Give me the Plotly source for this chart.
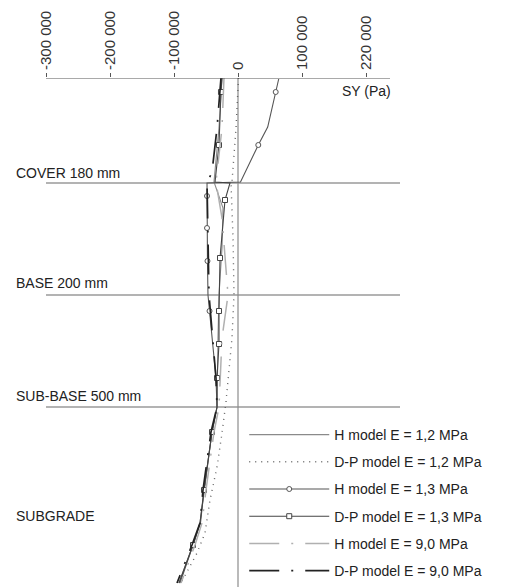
import plotly.graph_objects as go

# ---------------- data (depth in schematic units from surface, SY in Pa) ----------------
tick_vals = [-300000, -200000, -100000, 0, 100000, 200000]
tick_text = ["-300 000", "-200 000", "-100 000", "0", "100 000", "220 000"]

layer_bounds = [105, 217, 329]
layer_names = ["COVER 180 mm", "BASE 200 mm", "SUB-BASE 500 mm", "SUBGRADE"]
layer_label_depth = [95, 205, 318, 438]

depth_h12 = [0, 50, 104, 130, 170, 217, 260, 300, 329, 354, 412, 445, 467, 505]
sy_h12 = [-25000, -29700, -37500, -23400, -25000, -29700, -31250, -32800, -32800,
          -40600, -53100, -59400, -70300, -92200]

depth_dp12 = [0, 50, 104, 105, 160, 217, 260, 324, 355, 389, 422, 455, 475, 505]
sy_dp12 = [800, -3100, -9400, -10900, -7800, -6250, -9400, -18750, -25000, -32800,
           -43750, -51600, -64000, -89000]

depth_h13 = [1, 14, 49, 67, 104, 105, 118, 150, 183, 217, 233, 266, 300, 329, 354,
             412, 445, 467, 505]
sy_h13 = [63600, 58900, 46400, 31700, 3900, -48400, -48400, -48400, -47700, -46900,
          -44500, -39100, -34400, -32800, -40600, -53100, -58600, -70300, -90600]
marks_h13 = [14, 67, 118, 150, 183, 233, 354, 412, 467]

depth_dp13 = [0, 14, 67, 104, 105, 122, 180, 217, 233, 266, 300, 329, 354, 412, 445,
              467, 505]
sy_dp13 = [-25000, -26600, -29700, -35900, -12500, -20300, -28100, -29700, -29700,
           -29700, -32800, -32800, -40600, -53100, -59400, -70300, -92200]
marks_dp13 = [14, 67, 122, 180, 233, 266, 300, 354, 412, 467]

depth_h90 = [0, 50, 104, 140, 217, 260, 329, 354, 412, 445, 467, 505]
sy_h90 = [-21900, -25000, -34400, -25000, -15600, -25000, -29700, -37500, -50000,
          -56250, -67200, -89000]

depth_dp90 = [0, 50, 94, 104, 105, 217, 260, 300, 329, 354, 412, 445, 467, 505]
sy_dp90 = [-26600, -32800, -40600, -46900, -48400, -45300, -39100, -34400, -32800,
           -42200, -54700, -59400, -71900, -95300]

names = ["H model E = 1,2 MPa", "D-P model E = 1,2 MPa", "H model E = 1,3 MPa",
         "D-P model E = 1,3 MPa", "H model E = 9,0 MPa", "D-P model E = 9,0 MPa"]

# ---------------- styles ----------------
FONT = "Liberation Sans, Arial, sans-serif"
styles = [
    dict(color="#8a8a8a", width=1.1, dash="solid"),
    dict(color="#666666", width=1.4, dash="1px,5px"),
    dict(color="#555555", width=1.1, dash="solid"),
    dict(color="#444444", width=1.1, dash="solid"),
    dict(color="#b0b0b0", width=1.5, dash="30px,12px,2px,12px"),
    dict(color="#222222", width=1.7, dash="30px,12px,2px,12px"),
]
symbols = [None, None, "circle", "square", None, None]

series = [
    (depth_h12, sy_h12, None),
    (depth_dp12, sy_dp12, None),
    (depth_h13, sy_h13, marks_h13),
    (depth_dp13, sy_dp13, marks_dp13),
    (depth_h90, sy_h90, None),
    (depth_dp90, sy_dp90, None),
]

fig = go.Figure()

for i, (d, v, marks) in enumerate(series):
    st = styles[i]
    fig.add_trace(go.Scatter(
        x=v, y=d, mode="lines", showlegend=False, hoverinfo="skip",
        line=dict(color=st["color"], width=st["width"], dash=st["dash"]),
    ))
    if marks:
        mx = [v[k] for k in range(len(d)) if d[k] in marks]
        my = [d[k] for k in range(len(d)) if d[k] in marks]
        fig.add_trace(go.Scatter(
            x=mx, y=my, mode="markers", showlegend=False, hoverinfo="skip",
            marker=dict(symbol=symbols[i], size=5, color="white",
                        line=dict(color=st["color"], width=1)),
        ))

# legend entries
for i, nm in enumerate(names):
    st = styles[i]
    mode = "lines+markers" if symbols[i] else "lines"
    fig.add_trace(go.Scatter(
        x=[None], y=[None], mode=mode, name=nm, legendgroup=f"g{i}",
        line=dict(color=st["color"], width=st["width"], dash=st["dash"]),
        marker=dict(symbol=symbols[i] or "circle", size=5, color="white",
                    line=dict(color=st["color"], width=1)),
    ))

# zero line
fig.add_shape(type="line", xref="x", yref="y", x0=0, x1=0, y0=0, y1=509,
              line=dict(color="#8c8c8c", width=1.2), layer="below")
# layer boundaries
for b in layer_bounds:
    fig.add_shape(type="line", xref="x domain", yref="y", x0=0, x1=1, y0=b, y1=b,
                  line=dict(color="#9a9a9a", width=1.5), layer="below")
# top axis line
fig.add_shape(type="line", xref="x", yref="y", x0=-300000, x1=237500, y0=0, y1=0,
              line=dict(color="#555555", width=1.2))

for nm, yd in zip(layer_names, layer_label_depth):
    fig.add_annotation(xref="paper", yref="y", x=-0.09, y=yd, text=nm,
                       showarrow=False, xanchor="left", yanchor="middle",
                       font=dict(family=FONT, size=14, color="#222222"))

fig.add_annotation(xref="x", yref="y", x=159000, y=13, text="SY (Pa)",
                   showarrow=False, xanchor="left", yanchor="middle",
                   font=dict(family=FONT, size=14, color="#222222"))

# page body has an 8px margin, so the figure is sized/offset to compensate
fig.update_layout(
    width=497, height=579,
    margin=dict(l=38, r=105, t=70, b=0),
    paper_bgcolor="white", plot_bgcolor="white",
    font=dict(family=FONT, size=13, color="#222222"),
    xaxis=dict(side="top", range=[-300000, 253125], tickvals=tick_vals,
               ticktext=tick_text, tickangle=-90, ticks="outside", ticklen=4,
               tickcolor="#555555", showgrid=False, zeroline=False, showline=False,
               tickfont=dict(family=FONT, size=15, color="#333333")),
    yaxis=dict(range=[509, 0], visible=False, showgrid=False, zeroline=False),
    legend=dict(x=0.56, y=0.33, xanchor="left", yanchor="top", itemwidth=80,
                bgcolor="rgba(0,0,0,0)", tracegroupgap=6,
                font=dict(family=FONT, size=14, color="#222222")),
    showlegend=True,
)

fig.write_html("out.html")
